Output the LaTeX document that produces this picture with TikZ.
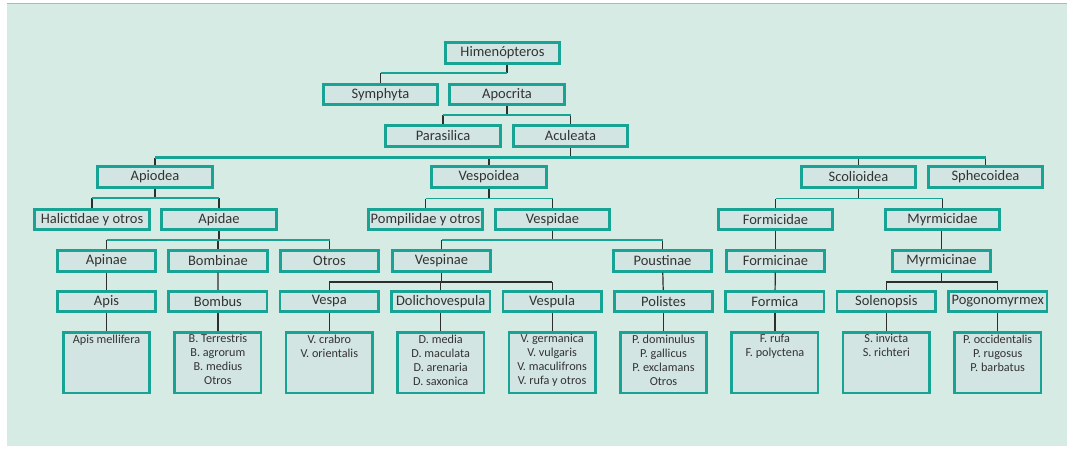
\documentclass[tikz,border=0pt]{standalone}
\usepackage{fontspec}
\setmainfont{Carlito}
\usetikzlibrary{positioning}
\definecolor{panel}{HTML}{D6EBE4}
\definecolor{boxfill}{HTML}{D2E5E3}
\definecolor{tealline}{HTML}{17A495}
\definecolor{stubcol}{HTML}{2E2E2E}
\definecolor{inkgray}{HTML}{333333}

\begin{document}
\begin{tikzpicture}[x=1pt,y=-1pt,
  box/.style={draw=tealline,line width=2.6pt,fill=boxfill,minimum width=114.5pt,
    minimum height=20.5pt,inner sep=0pt,text=inkgray,font=\fontsize{14.5}{16}\selectfont},
  sub/.style={box,minimum width=98.5pt},
  leaf/.style={box,minimum width=86.5pt,minimum height=60.5pt,anchor=north},
  stub/.style={stubcol,line width=1.2pt},
  bar/.style={tealline,line width=1.6pt},
  thickbar/.style={tealline,line width=2.6pt},
  darkbar/.style={stubcol,line width=1.2pt}]
  \useasboundingbox (0,0) rectangle (1067,448);
  \fill[white] (0,0) rectangle (1067,448);
  \fill[panel] (7,3) rectangle (1067,446);
  \draw[tealline!55,line width=1.4pt] (7,3.5) -- (1067,3.5);

  % top of the tree
  \node[box] (him) at (502.5,53) {Himenópteros};
  \node[box] (sym) at (380.5,94.5) {Symphyta};
  \node[box] (apo) at (507,94.5) {Apocrita};
  \node[box,minimum height=21.5pt] (par) at (443,136) {Parasilica};
  \node[box,minimum height=21.5pt] (acu) at (570.5,136) {Aculeata};

  % superfamilies
  \node[box] (api) at (155,177) {Apiodea};
  \node[box] (ves) at (489,177) {Vespoidea};
  \node[box] (sco) at (858.5,177) {Scolioidea};
  \node[box] (sph) at (985.5,177) {Sphecoidea};

  % families
  \node[box] (hal) at (92,219.5) {Halictidae y otros};
  \node[box] (apd) at (219,219.5) {Apidae};
  \node[box] (pom) at (425.5,219.5) {Pompilidae y otros};
  \node[box] (vpd) at (552.5,219.5) {Vespidae};
  \node[box] (fmd) at (775.5,219.5) {Formicidae};
  \node[box] (myd) at (942.5,219.5) {Myrmicidae};

  % subfamilies
  \node[sub] (apn) at (106.5,261) {Apinae};
  \node[sub] (bom) at (218,261) {Bombinae};
  \node[sub] (otr) at (329.5,261) {Otros};
  \node[sub] (vsn) at (441.5,261) {Vespinae};
  \node[sub] (pou) at (662.5,261) {Poustinae};
  \node[sub] (fmn) at (775.5,261) {Formicinae};
  \node[sub] (myn) at (941.5,261) {Myrmicinae};

  % genera and species
  \foreach \gen/\spp/\i in {%
      Apis/{Apis mellifera}/0,
      Bombus/{B. Terrestris\\B. agrorum\\B. medius\\Otros}/1,
      Vespa/{V. crabro\\V. orientalis}/2,
      Dolichovespula/{D. media\\D. maculata\\D. arenaria\\D. saxonica}/3,
      Vespula/{V. germanica\\V. vulgaris\\V. maculifrons\\V. rufa y otros}/4,
      Polistes/{P. dominulus\\P. gallicus\\P. exclamans\\Otros}/5,
      Formica/{F. rufa\\F. polyctena}/6,
      Solenopsis/{S. invicta\\S. richteri}/7,
      Pogonomyrmex/{P. occidentalis\\P. rugosus\\P. barbatus}/8}{
    \pgfmathsetmacro{\cx}{106.5+111.4*\i}
    \node[sub] (g\i) at (\cx,301.5) {\gen};
    \node[leaf,label={[anchor=north,align=center,text=inkgray,
      font=\fontsize{12.2}{14}\selectfont]north:\spp}] (l\i) at (\cx,331) {};
    \draw[stub] (g\i) -- (l\i);
  }

  % connectors
  \draw[stub] (apo.north |- him.south) -- (apo.north |- 0,73);
  \draw[stub] (sym.north) -- (sym.north |- 0,73);
  \draw[thickbar] (sym.north |- 0,73) -- (apo.north |- 0,73);

  \draw[stub] (apo.south) -- (apo.south |- 0,115);
  \foreach \c in {par,acu} \draw[stub] (\c.north) -- (\c.north |- 0,115);
  \draw[thickbar] (par.north |- 0,115) -- (acu.north |- 0,115);

  \draw[stub] (acu.south) -- (acu.south |- 0,157.5);
  \foreach \c in {api,ves,sco,sph} \draw[stub] (\c.north) -- (\c.north |- 0,157.5);
  \draw[thickbar] (api.north |- 0,157.5) -- (sph.north |- 0,157.5);

  \draw[stub] (api.south) -- (api.south |- 0,198);
  \foreach \c in {hal,apd} \draw[stub] (\c.north) -- (\c.north |- 0,198);
  \draw[bar] (hal.north |- 0,198) -- (apd.north |- 0,198);

  \draw[stub] (ves.south) -- (ves.south |- 0,198.5);
  \foreach \c in {pom,vpd} \draw[stub] (\c.north) -- (\c.north |- 0,198.5);
  \draw[bar] (pom.north |- 0,198.5) -- (vpd.north |- 0,198.5);

  \draw[stub] (sco.south) -- (sco.south |- 0,198.5);
  \foreach \c in {fmd,myd} \draw[stub] (\c.north) -- (\c.north |- 0,198.5);
  \draw[bar] (fmd.north |- 0,198.5) -- (myd.north |- 0,198.5);

  \draw[stub] (apd.south) -- (apd.south |- 0,240);
  \foreach \c in {apn,bom,otr} \draw[stub] (\c.north) -- (\c.north |- 0,240);
  \draw[bar] (apn.north |- 0,240) -- (otr.north |- 0,240);

  \draw[stub] (vpd.south) -- (vpd.south |- 0,240);
  \foreach \c in {vsn,pou} \draw[stub] (\c.north) -- (\c.north |- 0,240);
  \draw[bar] (vsn.north |- 0,240) -- (pou.north |- 0,240);

  \draw[stub] (fmd) -- (fmn);
  \draw[stub] (myd.south -| myn.north) -- (myn.north);

  \draw[stub] (apn) -- (g0);
  \draw[stub] (bom) -- (g1);
  \draw[stub] (pou) -- (g5);
  \draw[stub] (fmn) -- (g6);

  \draw[stub] (vsn.south) -- (vsn.south |- 0,282);
  \foreach \c in {g2,g3,g4} \draw[stub] (\c.north) -- (\c.north |- 0,282);
  \draw[darkbar] (g2.north |- 0,282) -- (g4.north |- 0,282);

  \draw[stub] (myn.south) -- (myn.south |- 0,282);
  \foreach \c in {g7,g8} \draw[stub] (\c.north) -- (\c.north |- 0,282);
  \draw[darkbar] (g7.north |- 0,282) -- (g8.north |- 0,282);
\end{tikzpicture}
\end{document}
